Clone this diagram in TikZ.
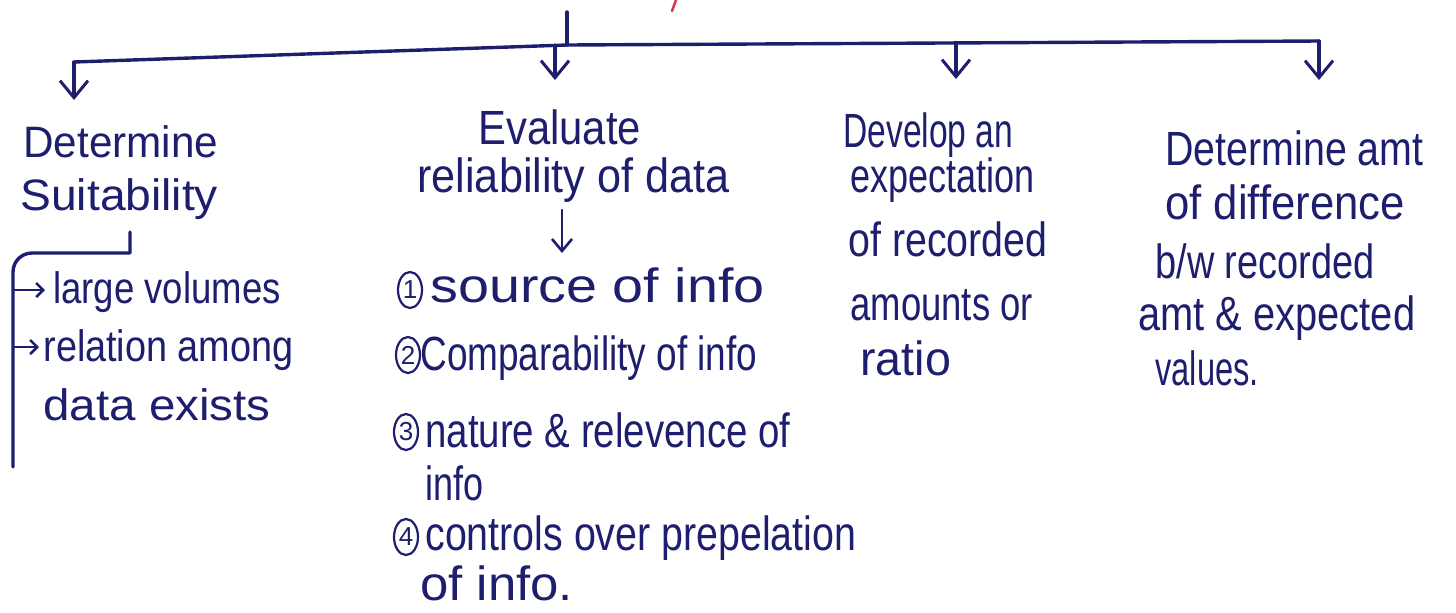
\documentclass[tikz,border=0pt]{standalone}
\usepackage{fontspec}
\usepackage{graphicx}
\setmainfont{Liberation Sans}
\usetikzlibrary{arrows.meta,shapes.geometric}
\definecolor{ink}{HTML}{1E1E6E}
\definecolor{redink}{HTML}{D23A55}
\newcommand{\sx}[2]{\scalebox{#1}[1]{#2}}
\begin{document}
\begin{tikzpicture}[x=0.5pt,y=-0.5pt,
  hw/.style={font=\fontsize{24}{26}\selectfont, text=ink, inner sep=0pt, anchor=base west},
  hwa/.style={hw, font=\fontsize{22}{24}\selectfont},
  wire/.style={draw=ink, line width=1.7pt, line cap=round, line join=round},
  arr/.style={wire, -{Straight Barb[length=8.5pt,width=14pt,line width=1.5pt]}},
  sarr/.style={draw=ink, line width=1.3pt, line cap=round, -{Straight Barb[length=3.5pt,width=7pt]}},
  num/.style={ellipse, draw=ink, line width=1.1pt, text=ink, inner sep=0pt, minimum width=12pt, minimum height=18pt, font=\fontsize{13}{13}\selectfont}]
\useasboundingbox (0,0) rectangle (1456,612);
% top stem and bus
\coordinate (top) at (567,12);
\coordinate (hub) at (567,45);
\coordinate (c1) at (74,62);
\coordinate (c4) at (1319,41);
\coordinate (b2) at (555,45.5);
\coordinate (b3) at (956,42.5);
\draw[draw=redink, line width=1.3pt, line cap=round] (676,0) -- (672,11);
\draw[wire] (top) -- (hub);
\draw[wire] (c1) -- (hub) -- (c4);
\coordinate (t1) at (74,100);
\coordinate (t2) at (555,80);
\coordinate (t3) at (956,79);
\coordinate (t4) at (1319,80);
\draw[arr] (c1) -- (t1);
\draw[arr] (b2) -- (t2);
\draw[arr] (b3) -- (t3);
\draw[arr] (c4) -- (t4);
% column 1
\node[hwa] (d1) at (23,157) {\sx{0.96}{Determine}};
\node[hwa] (d2) at (20,210) {\sx{1.05}{Suitability}};
\coordinate (k1) at (130,232);
\coordinate (k2) at (130,253);
\coordinate (k3) at (13,272);
\coordinate (k4) at (13,467);
\coordinate (a1) at (13,290);
\coordinate (a2) at (13,347);
\draw[wire] (k1) -- (k2) -- (32,253) to[out=180,in=90] (k3) -- (k4);
\node[hwa] (l1) at (53,303) {\sx{0.83}{large volumes}};
\node[hwa] (l2) at (43,361) {\sx{0.86}{relation among}};
\node[hwa] (l3) at (43,420) {\sx{1.08}{data exists}};
\draw[sarr] (a1) -- ([xshift=-4pt]l1.west |- a1);
\draw[sarr] (a2) -- ([xshift=-2pt]l2.west |- a2);
% column 2
\node[hw] (e1) at (478,144) {\sx{0.87}{Evaluate}};
\node[hw] (e2) at (417,192) {\sx{0.9}{reliability of data}};
\coordinate (v1) at (562,210);
\coordinate (v2) at (562,253);
\draw[draw=ink, line width=1.3pt, line cap=round, -{Straight Barb[length=6pt,width=10pt]}] (v1) -- (v2);
\node[num] (n1) at (410,290) {1};
\node[hw] (s1) at (430,302) {\sx{1.16}{source of info}};
\node[num] (n2) at (408,355) {2};
\node[hw] (s2) at (420,370) {\sx{0.77}{Comparability of info}};
\node[num] (n3) at (406,432) {3};
\node[hw] (s3) at (425,447) {\sx{0.8}{nature \& relevence of}};
\node[hw] (s3b) at (425,500) {\sx{0.75}{info}};
\node[num] (n4) at (406,537) {4};
\node[hw] (s4) at (425,550) {\sx{0.82}{controls over prepelation}};
\node[hw] (s4b) at (420,600) {\sx{1.06}{of info.}};
% column 3
\node[hw] (x1) at (843,147) {\sx{0.7}{Develop an}};
\node[hw] (x2) at (850,192) {\sx{0.75}{expectation}};
\node[hw] (x3) at (848,256) {\sx{0.82}{of recorded}};
\node[hw] (x4) at (850,320) {\sx{0.76}{amounts or}};
\node[hw] (x5) at (860,375) {\sx{0.97}{ratio}};
% column 4
\node[hw] (y1) at (1165,165) {\sx{0.82}{Determine amt}};
\node[hw] (y2) at (1165,219) {\sx{0.91}{of difference}};
\node[hw] (y3) at (1155,278) {\sx{0.79}{b/w recorded}};
\node[hw] (y4) at (1138,330) {\sx{0.83}{amt \& expected}};
\node[hw] (y5) at (1155,385) {\sx{0.68}{values.}};
\end{tikzpicture}
\end{document}
